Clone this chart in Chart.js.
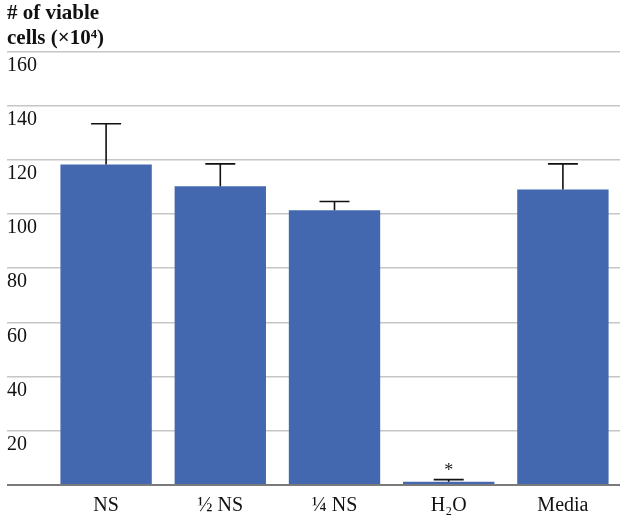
<!DOCTYPE html>
<html>
<head>
<meta charset="utf-8">
<script src="https://cdn.jsdelivr.net/npm/chart.js@4.4.0/dist/chart.umd.min.js"></script>
<style>
  html, body { margin: 0; padding: 0; background: #fff; }
  #wrap { width: 629px; height: 524px; }
</style>
</head>
<body>
<div id="wrap"><canvas id="chart"></canvas></div>
<script>
// categories and values
const categories = ['NS', '½ NS', '¼ NS', 'H₂O', 'Media'];
const viableCells = [118.3, 110.2, 101.4, 1.2, 109.0];
const errorTop = [133.3, 118.5, 104.6, 2.0, 118.5];
const markers = ['', '', '', '*', ''];
const yTitle = ['# of viable', 'cells (×10⁴)'];

const serif = "'Liberation Serif', 'Times New Roman', serif";

// upward-only error bars + significance mark
const errorBars = {
    id: 'errorBars',
    afterDatasetsDraw(chart) {
        const meta = chart.getDatasetMeta(0);
        const y = chart.scales.y;
        const ctx = chart.ctx;
        ctx.save();
        ctx.strokeStyle = '#111';
        ctx.lineWidth = 1.6;
        ctx.fillStyle = '#222';
        ctx.font = '18px ' + serif;
        ctx.textAlign = 'center';
        ctx.textBaseline = 'bottom';
        meta.data.forEach((bar, i) => {
            const top = y.getPixelForValue(errorTop[i]);
            ctx.beginPath();
            ctx.moveTo(bar.x, bar.y);
            ctx.lineTo(bar.x, top);
            ctx.moveTo(bar.x - 15, top);
            ctx.lineTo(bar.x + 15, top);
            ctx.stroke();
            if (markers[i]) ctx.fillText(markers[i], bar.x, top + 1);
        });
        ctx.restore();
    }
};

const ctx = document.getElementById('chart').getContext('2d');
new Chart(ctx, {
    type: 'bar',
    data: {
        labels: categories,
        datasets: [{
            data: viableCells,
            backgroundColor: '#4468b0',
            borderWidth: 0,
            barPercentage: 0.8,
            categoryPercentage: 1.0
        }]
    },
    options: {
        responsive: true,
        maintainAspectRatio: false,
        animation: false,
        layout: { padding: { left: 7, right: 9, top: 0, bottom: 0 } },
        plugins: {
            legend: { display: false },
            tooltip: { enabled: false },
            title: {
                display: true,
                text: yTitle,
                align: 'start',
                color: '#111',
                font: { family: serif, size: 21, weight: 'bold', lineHeight: 1.2 },
                padding: { top: 1, bottom: 0 }
            }
        },
        scales: {
            x: {
                grid: { display: false, drawTicks: false },
                border: { display: false },
                ticks: { color: '#111', padding: 9, font: { family: serif, size: 20 } },
                afterFit(scale) { scale.height = 39; }
            },
            y: {
                min: 0,
                max: 160,
                border: { display: false },
                grid: {
                    color: c => c.tick && c.tick.value === 0 ? '#7a7a7a' : '#c6c6c6',
                    lineWidth: c => c.tick && c.tick.value === 0 ? 2 : 1.5,
                    drawTicks: true,
                    tickLength: 42
                },
                ticks: {
                    stepSize: 20,
                    labelOffset: 14,
                    crossAlign: 'far',
                    padding: 0,
                    color: '#111',
                    font: { family: serif, size: 20 },
                    callback: v => v === 0 ? '' : v
                },
                afterFit(scale) { scale.width = 42; }
            }
        }
    },
    plugins: [errorBars]
});
</script>
</body>
</html>
